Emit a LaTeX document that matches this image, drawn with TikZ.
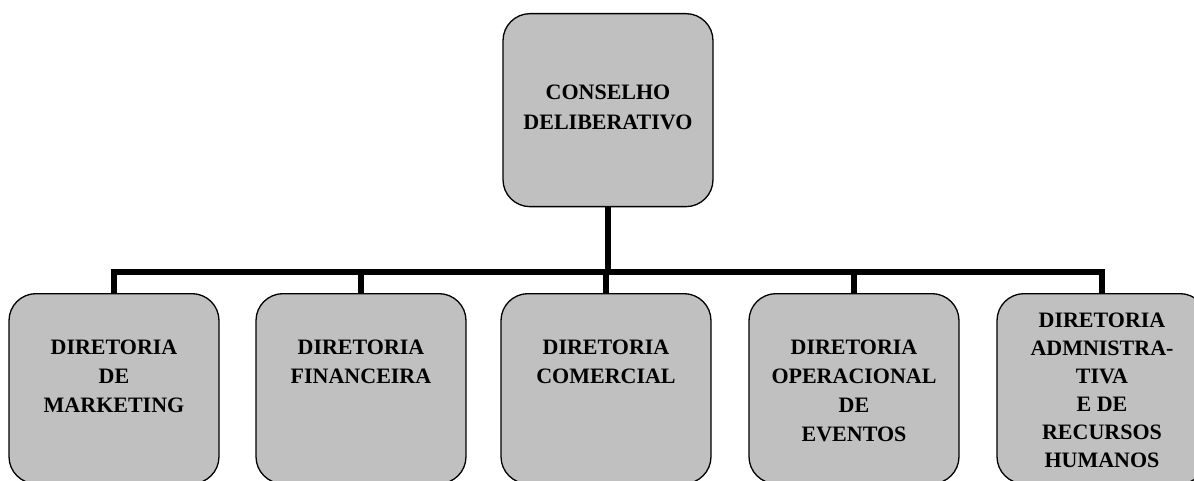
\documentclass[tikz,border=0pt]{standalone}
\usepackage{fontspec}
\setmainfont{Liberation Serif}
\usetikzlibrary{positioning}
\definecolor{boxgray}{RGB}{192,192,192}

\begin{document}
\begin{tikzpicture}[x=1pt, y=-1pt,
    caixa/.style={draw=black, line width=1.3pt, fill=boxgray, rounded corners=27pt, minimum width=210pt, minimum height=190pt, anchor=north, inner sep=0pt},
    rotulo/.style={align=center, font=\bfseries\fontsize{22}{29}\selectfont, anchor=north, inner sep=0pt},
    ligacao/.style={line width=6pt}]
        \useasboundingbox (0,0) rectangle (1194,481);
        \clip (0,0) rectangle (1194,481);
        % caixas
        \node[caixa, minimum height=193pt] (cd) at (608,13) {};
        \node[caixa] (mkt) at (114,293) {};
        \node[caixa] (fin) at (361,293) {};
        \node[caixa] (com) at (606,293) {};
        \node[caixa] (ope) at (854,293) {};
        \node[caixa] (adm) at (1102,293) {};
        % textos
        \node[rotulo, font=\bfseries\fontsize{22}{30}\selectfont, below=72pt of cd.north] (cdtxt) {CONSELHO\\DELIBERATIVO};
        \node[rotulo, below=47pt of mkt.north] (mkttxt) {DIRETORIA\\DE\\MARKETING};
        \node[rotulo, below=47pt of fin.north] (fintxt) {DIRETORIA\\FINANCEIRA};
        \node[rotulo, below=47pt of com.north] (comtxt) {DIRETORIA\\COMERCIAL};
        \node[rotulo, below=47pt of ope.north] (opetxt) {DIRETORIA\\OPERACIONAL\\DE\\EVENTOS};
        \node[rotulo, font=\bfseries\fontsize{22}{28}\selectfont, below=19.5pt of adm.north] (admtxt) {DIRETORIA\\ADMNISTRA-\\TIVA\\E DE\\RECURSOS\\HUMANOS};
        % ligacoes
        \foreach \d in {mkt, fin, com, ope, adm}
            \draw[ligacao] (cd.south) -- ++(0,65) -| (\d.north);
\end{tikzpicture}
\end{document}
